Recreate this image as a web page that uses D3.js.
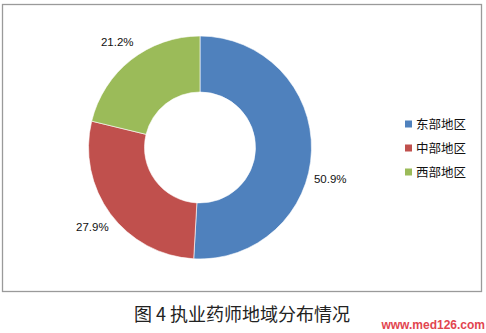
<!DOCTYPE html>
<html>
<head>
<meta charset="utf-8">
<script src="https://cdn.jsdelivr.net/npm/d3@7"></script>
<style>
  html, body { margin: 0; padding: 0; background: #fff; }
  svg { display: block; }
</style>
</head>
<body>
<svg id="chart" width="486" height="333"></svg>
<script>
const categories = ["东部地区", "中部地区", "西部地区"];
const values = [50.9, 27.9, 21.2];
const colors = ["#4f81bd", "#c0504d", "#9bbb59"];
const title = "图 4 执业药师地域分布情况";
const watermark = "www.med126.com";

const svg = d3.select("#chart");
const W = 486, H = 333;

// chart frame
svg.append("rect")
  .attr("x", 2.5).attr("y", 4.5)
  .attr("width", 479).attr("height", 287)
  .attr("fill", "#fff")
  .attr("stroke", "#9a9a9a")
  .attr("stroke-width", 1.3);

const cx = 200, cy = 147.5;
const outerR = 111.5, innerR = 55.5;

const pie = d3.pie().sort(null).value(d => d)
  .startAngle(0).endAngle(2 * Math.PI);
const arcs = pie(values);
const arc = d3.arc().innerRadius(innerR).outerRadius(outerR);
const labelArc = d3.arc().innerRadius(135).outerRadius(135);

const g = svg.append("g").attr("transform", `translate(${cx},${cy})`);
g.selectAll("path.slice")
  .data(arcs)
  .enter().append("path")
  .attr("class", "slice")
  .attr("d", arc)
  .attr("fill", (d, i) => colors[i])
  .attr("stroke", "#fff")
  .attr("stroke-width", 0.6);

// labels: largest slice's label is pushed down like the source's best-fit placement
g.selectAll("text.lbl")
  .data(arcs)
  .enter().append("text")
  .attr("class", "lbl")
  .attr("transform", (d, i) => {
    const mid = (d.startAngle + d.endAngle) / 2 + (i === 0 ? 0.21 : 0);
    const r = 134;
    return `translate(${r * Math.sin(mid)},${-r * Math.cos(mid)})`;
  })
  .attr("text-anchor", "middle")
  .attr("dy", "0.35em")
  .attr("font-family", "'Liberation Sans', Arial, sans-serif")
  .attr("font-size", 11.5)
  .attr("fill", "#111")
  .text(d => d.data.toFixed(1) + "%");

// legend
const legend = svg.append("g").attr("transform", "translate(405,124)");
const li = legend.selectAll("g.item")
  .data(categories)
  .enter().append("g")
  .attr("class", "item")
  .attr("transform", (d, i) => `translate(0,${i * 24})`);
li.append("rect")
  .attr("x", 0).attr("y", -3.5)
  .attr("width", 7).attr("height", 7)
  .attr("fill", (d, i) => colors[i]);
li.append("text")
  .attr("x", 11).attr("y", 0)
  .attr("dy", "0.36em")
  .attr("font-family", "'Noto Sans CJK SC', sans-serif")
  .attr("font-size", 12.5)
  .attr("fill", "#111")
  .text(d => d);

// title
svg.append("text")
  .attr("x", 242).attr("y", 315)
  .attr("dy", "0.36em")
  .attr("text-anchor", "middle")
  .attr("font-family", "'Noto Sans CJK SC', sans-serif")
  .attr("font-size", 18)
  .attr("fill", "#222")
  .text(title);

// watermark
svg.append("text")
  .attr("x", 485).attr("y", 325)
  .attr("dy", "0.36em")
  .attr("text-anchor", "end")
  .attr("font-family", "'Liberation Sans', Arial, sans-serif")
  .attr("font-weight", "bold")
  .attr("font-size", 12)
  .attr("fill", "#e2454f")
  .text(watermark);
</script>
</body>
</html>
